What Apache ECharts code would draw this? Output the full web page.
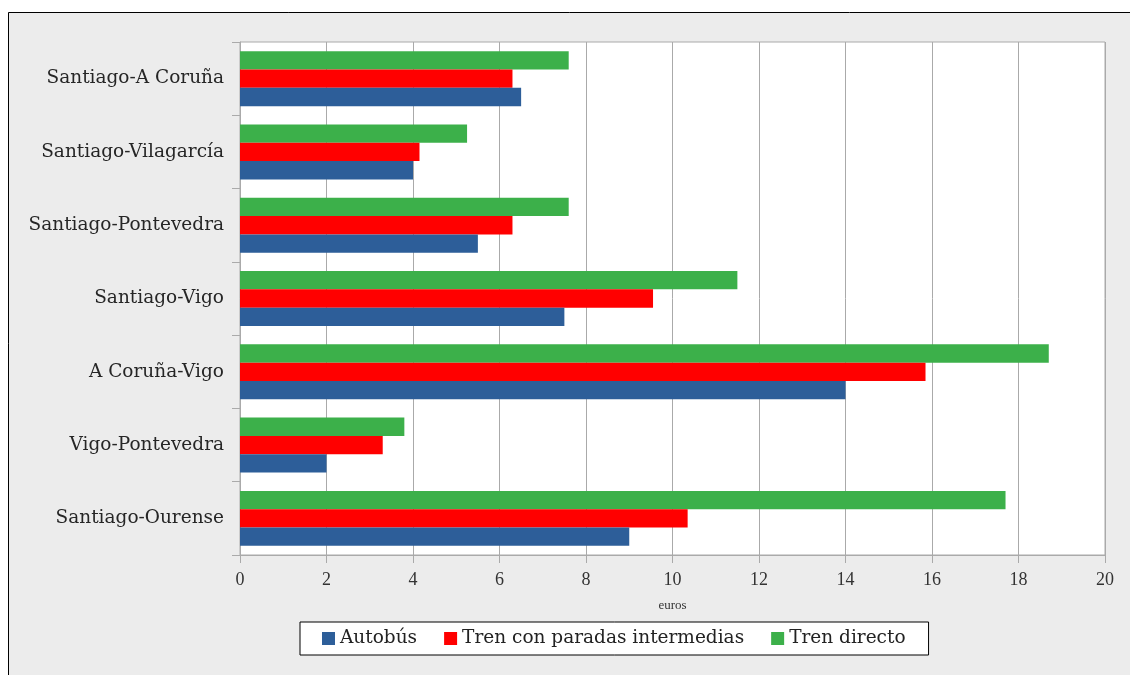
<!DOCTYPE html>
<html>
<head>
<meta charset="utf-8">
<script src="https://cdn.jsdelivr.net/npm/echarts@6/dist/echarts.min.js"></script>
<style>
html,body{margin:0;padding:0;background:#fff;}
#chart{width:1130px;height:675px;}
</style>
</head>
<body>
<div id="chart"></div>
<script>
const categories = ["Santiago-A Coruña", "Santiago-Vilagarcía", "Santiago-Pontevedra", "Santiago-Vigo", "A Coruña-Vigo", "Vigo-Pontevedra", "Santiago-Ourense"];
const seriesNames = ["Autobús", "Tren con paradas intermedias", "Tren directo"];
const autobus = [6.5, 4.0, 5.5, 7.5, 14.0, 2.0, 9.0];
const trenParadas = [6.3, 4.15, 6.3, 9.55, 15.85, 3.3, 10.35];
const trenDirecto = [7.6, 5.25, 7.6, 11.5, 18.7, 3.8, 17.7];
const xTicks = { min: 0, max: 20, interval: 2 };
const xAxisName = "euros";

const colors = ["#2d5e99", "#ff0000", "#3cb04a"];
const serif = "Liberation Serif";
const wideSerif = "DejaVu Serif";

const chart = echarts.init(document.getElementById('chart'), null, { renderer: 'canvas' });
const barCommon = { type: 'bar', barGap: '0%', barCategoryGap: '25%' };
const option = {
  backgroundColor: '#ececec',
  animation: false,
  graphic: [
    { type: 'rect', silent: true, shape: { x: 0, y: 0, width: 1130, height: 12 }, style: { fill: '#ffffff' } },
    { type: 'rect', silent: true, shape: { x: 0, y: 0, width: 8, height: 675 }, style: { fill: '#ffffff' } },
    { type: 'line', silent: true, shape: { x1: 8.5, y1: 12.5, x2: 1130, y2: 12.5 }, style: { stroke: '#000', lineWidth: 1 } },
    { type: 'line', silent: true, shape: { x1: 8.5, y1: 12.5, x2: 8.5, y2: 675 }, style: { stroke: '#000', lineWidth: 1 } }
  ],
  grid: {
    left: 240, right: 25, top: 42, bottom: 120,
    show: true, backgroundColor: '#ffffff', borderColor: '#aaaaaa', borderWidth: 1
  },
  legend: {
    data: seriesNames,
    left: 300, top: 622,
    orient: 'horizontal',
    backgroundColor: '#ffffff',
    borderColor: '#000000', borderWidth: 1,
    padding: [7, 23, 7, 22],
    itemWidth: 13, itemHeight: 13, itemGap: 27,
    icon: 'rect',
    textStyle: { fontFamily: wideSerif, fontSize: 18.5, color: '#222' }
  },
  xAxis: {
    type: 'value',
    min: xTicks.min, max: xTicks.max, interval: xTicks.interval,
    name: xAxisName, nameLocation: 'middle', nameGap: 44,
    nameTextStyle: { fontFamily: serif, fontSize: 13, color: '#333' },
    axisLine: { show: true, lineStyle: { color: '#aaaaaa' } },
    axisTick: { show: true, length: 8, lineStyle: { color: '#aaaaaa' } },
    axisLabel: { fontFamily: serif, fontSize: 18, color: '#333', margin: 16 },
    splitLine: { show: true, lineStyle: { color: '#aaaaaa' } }
  },
  yAxis: {
    type: 'category',
    data: categories,
    inverse: true,
    axisLine: { show: true, lineStyle: { color: '#aaaaaa' } },
    axisTick: { show: true, length: 8, lineStyle: { color: '#aaaaaa' } },
    axisLabel: { fontFamily: wideSerif, fontSize: 18.5, color: '#262626', margin: 16 },
    splitLine: { show: false }
  },
  series: [
    Object.assign({ name: seriesNames[2], data: trenDirecto, itemStyle: { color: colors[2] } }, barCommon),
    Object.assign({ name: seriesNames[1], data: trenParadas, itemStyle: { color: colors[1] } }, barCommon),
    Object.assign({ name: seriesNames[0], data: autobus, itemStyle: { color: colors[0] } }, barCommon)
  ]
};
chart.setOption(option);
</script>
</body>
</html>
